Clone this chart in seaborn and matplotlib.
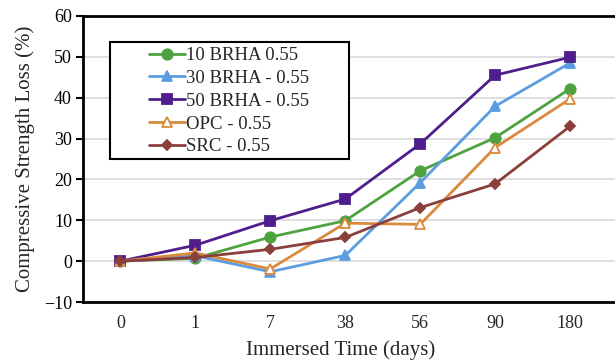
import matplotlib
matplotlib.use("Agg")
import matplotlib.pyplot as plt
from matplotlib.patches import Rectangle
import seaborn as sns
import pandas as pd

days = ["0", "1", "7", "38", "56", "90", "180"]
brha10 = [0, 0.7, 5.9, 9.9, 22.1, 30.2, 42.2]
brha30 = [0, 1.3, -2.6, 1.4, 19.2, 37.9, 48.5]
brha50 = [0, 3.9, 9.9, 15.2, 28.7, 45.5, 49.9]
opc = [0, 2.0, -1.9, 9.3, 9.0, 27.8, 39.7]
src = [0, 0.9, 2.9, 5.8, 13.1, 18.9, 33.0]

series_names = ["10 BRHA 0.55", "30 BRHA - 0.55", "50 BRHA - 0.55", "OPC - 0.55", "SRC - 0.55"]
series_vals = [brha10, brha30, brha50, opc, src]
colors = ["#4ea23f", "#5b9de0", "#4f1e8c", "#d98a3d", "#8b3f3c"]
markers = ["o", "^", "s", "^", "D"]
msizes = [7.5, 7.5, 7.5, 7.5, 5.5]

rows = []
for name, vals in zip(series_names, series_vals):
    for i, (d, v) in enumerate(zip(days, vals)):
        rows.append({"series": name, "pos": i, "day": d, "value": v})
df = pd.DataFrame(rows)

sns.set_style("white")
plt.rcParams["font.family"] = ["Liberation Serif", "DejaVu Serif"]

fig = plt.figure(figsize=(6.15, 3.63), dpi=100)
ax = fig.add_axes([0.135, 0.168, 0.865, 0.788])

for name, c, m, ms in zip(series_names, colors, markers, msizes):
    sub = df[df["series"] == name]
    mfc = "white" if name.startswith("OPC") else c
    sns.lineplot(data=sub, x="pos", y="value", ax=ax, color=c, marker=m,
                 markersize=ms, markerfacecolor=mfc, markeredgecolor=c,
                 markeredgewidth=1.3, linewidth=2, label=name, sort=False)

ax.set_xlim(-0.5, 6.6)
ax.set_ylim(-10, 60)
ax.set_yticks(range(-10, 61, 10))
ax.set_xticks(range(len(days)))
ax.set_xticklabels(days)
ax.yaxis.grid(True, color="#d9d9d9", linewidth=1.2)
ax.xaxis.grid(False)
ax.set_axisbelow(True)
for s in ["left", "bottom", "top"]:
    ax.spines[s].set_color("black")
    ax.spines[s].set_linewidth(2)
ax.spines["right"].set_visible(False)
ax.tick_params(axis="y", direction="out", length=5, width=1.5, colors="black", labelsize=13, left=True, pad=3)
ax.tick_params(axis="x", length=0, labelsize=13, pad=9)
ax.set_xlabel("Immersed Time (days)", fontsize=15)
ax.xaxis.set_label_coords(0.485, -0.135)
ax.set_ylabel("Compressive Strength Loss (%)", fontsize=15, labelpad=6)

# legend frame (Excel-style wide box)
ax.add_patch(Rectangle((0.051, 0.50), 0.449, 0.409, transform=ax.transAxes,
                       facecolor="white", edgecolor="black", linewidth=1.5, zorder=5))
leg = ax.legend(loc="upper left", bbox_to_anchor=(0.124, 0.891), fontsize=13.5,
                frameon=False, handlelength=1.9, handletextpad=0.05, borderpad=0,
                labelspacing=0.3, borderaxespad=0)
leg.set_zorder(6)

fig.savefig("out.png", dpi=100)
